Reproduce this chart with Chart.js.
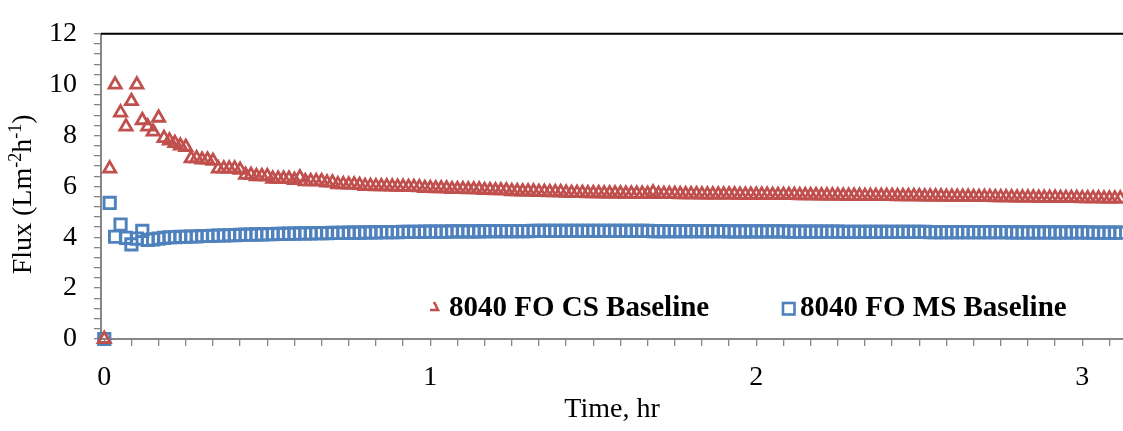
<!DOCTYPE html>
<html>
<head>
<meta charset="utf-8">
<title>8040 FO baseline flux</title>
<script src="https://cdn.jsdelivr.net/npm/chart.js@4.4.1/dist/chart.umd.min.js"></script>
<style>
  html, body { margin: 0; padding: 0; background: #fff; overflow: hidden; }
  #wrap { width: 1123px; height: 431px; position: relative; }
  #fluxChart { display: block; }
</style>
</head>
<body>
<div id="wrap"><canvas id="fluxChart"></canvas></div>
<script>
// flux readings, one per minute starting at t = 0
const SAMPLE_MIN = 1;

const seriesNames = ['8040 FO CS Baseline', '8040 FO MS Baseline'];

const csFlux = [
  0, 6.7, 10.0, 8.9, 8.35, 9.35, 10.0, 8.6, 8.35, 8.15,
  8.7, 7.9, 7.8, 7.7, 7.6, 7.55, 7.1, 7.1, 7.05, 7.05,
  7.0, 6.7, 6.7, 6.7, 6.7, 6.65, 6.45, 6.45, 6.4, 6.4,
  6.4, 6.3, 6.3, 6.3, 6.3, 6.25, 6.35, 6.2, 6.2, 6.2,
  6.2, 6.15, 6.15, 6.08, 6.08, 6.07, 6.07, 6.05, 6.01, 6.01,
  6.0, 6.0, 6.0, 5.99, 5.98, 5.98, 5.97, 5.97, 5.96, 5.93,
  5.93, 5.92, 5.92, 5.92, 5.89, 5.89, 5.89, 5.88, 5.88, 5.88,
  5.85, 5.85, 5.84, 5.84, 5.84, 5.81, 5.81, 5.80, 5.80, 5.80,
  5.78, 5.78, 5.77, 5.77, 5.77, 5.75, 5.74, 5.74, 5.74, 5.73,
  5.73, 5.73, 5.72, 5.72, 5.72, 5.72, 5.71, 5.71, 5.71, 5.71,
  5.70, 5.76, 5.70, 5.70, 5.70, 5.70, 5.69, 5.69, 5.69, 5.69,
  5.68, 5.68, 5.68, 5.68, 5.68, 5.68, 5.68, 5.67, 5.67, 5.67,
  5.67, 5.67, 5.67, 5.66, 5.66, 5.66, 5.66, 5.66, 5.65, 5.65,
  5.65, 5.65, 5.64, 5.64, 5.64, 5.64, 5.63, 5.63, 5.63, 5.63,
  5.62, 5.62, 5.62, 5.62, 5.62, 5.62, 5.61, 5.61, 5.61, 5.61,
  5.61, 5.60, 5.60, 5.60, 5.60, 5.59, 5.59, 5.59, 5.59, 5.59,
  5.58, 5.58, 5.58, 5.58, 5.57, 5.57, 5.57, 5.57, 5.56, 5.56,
  5.56, 5.56, 5.55, 5.55, 5.55, 5.55, 5.54, 5.54, 5.54, 5.54,
  5.53, 5.53, 5.53, 5.53, 5.52, 5.52, 5.52, 5.52
];

const msFlux = [
  0, 5.35, 4.02, 4.5, 3.98, 3.72, 3.95, 4.25, 3.9, 3.92,
  3.95, 3.98, 4.0, 4.0, 4.02, 4.02, 4.03, 4.03, 4.05, 4.05,
  4.06, 4.07, 4.07, 4.08, 4.08, 4.09, 4.10, 4.10, 4.11, 4.11,
  4.12, 4.12, 4.13, 4.13, 4.14, 4.14, 4.15, 4.15, 4.15, 4.16,
  4.16, 4.16, 4.17, 4.17, 4.17, 4.18, 4.18, 4.18, 4.19, 4.19,
  4.19, 4.20, 4.20, 4.20, 4.20, 4.21, 4.21, 4.21, 4.21, 4.22,
  4.22, 4.22, 4.22, 4.22, 4.23, 4.23, 4.23, 4.23, 4.23, 4.23,
  4.24, 4.24, 4.24, 4.24, 4.24, 4.24, 4.24, 4.24, 4.24, 4.25,
  4.25, 4.25, 4.25, 4.25, 4.25, 4.25, 4.25, 4.25, 4.25, 4.25,
  4.25, 4.25, 4.25, 4.25, 4.25, 4.25, 4.25, 4.25, 4.25, 4.25,
  4.25, 4.24, 4.24, 4.24, 4.24, 4.24, 4.24, 4.24, 4.24, 4.24,
  4.24, 4.24, 4.24, 4.24, 4.24, 4.23, 4.23, 4.23, 4.23, 4.23,
  4.23, 4.23, 4.23, 4.23, 4.23, 4.23, 4.22, 4.22, 4.22, 4.22,
  4.22, 4.22, 4.22, 4.22, 4.22, 4.22, 4.21, 4.21, 4.21, 4.21,
  4.21, 4.21, 4.21, 4.21, 4.21, 4.21, 4.21, 4.21, 4.21, 4.21,
  4.21, 4.21, 4.20, 4.20, 4.20, 4.20, 4.20, 4.20, 4.20, 4.20,
  4.20, 4.20, 4.20, 4.20, 4.20, 4.20, 4.20, 4.19, 4.19, 4.19,
  4.19, 4.19, 4.19, 4.19, 4.19, 4.19, 4.19, 4.19, 4.19, 4.19,
  4.19, 4.19, 4.18, 4.18, 4.18, 4.18, 4.18, 4.18
];

const xMajorLabels = [0, 1, 2, 3];
const yMajorLabels = [0, 2, 4, 6, 8, 10, 12];

const X_MIN = -0.01, X_MAX = 3.125;
const Y_MIN = 0, Y_MAX = 12;
const X_MINOR = 1 / 12;   // 5 min
const Y_MINOR = 0.4;

const RED  = '#C0504D';
const BLUE = '#4F81BD';
const AXIS = '#868686';
const SERIF = "'Liberation Serif', 'Times New Roman', serif";

Chart.defaults.font.family = SERIF;
Chart.defaults.font.size = 28;
Chart.defaults.color = '#000';

const toPoints = arr => arr.map((v, i) => ({ x: i * SAMPLE_MIN / 60, y: v }));

function minorTicks(min, max, step) {
  const out = [];
  for (let i = 0; i * step <= max + 1e-9; i++) {
    const v = Math.round(i * step * 1e6) / 1e6;
    if (v >= min) out.push({ value: v });
  }
  return out;
}

const isMajor = (v, list) => list.some(m => Math.abs(m - v) < 1e-6);

// plot frame line along the top of the plot area
const topFrame = {
  id: 'topFrame',
  beforeDatasetsDraw(chart) {
    const { ctx, chartArea: a } = chart;
    ctx.save();
    ctx.strokeStyle = '#000';
    ctx.lineWidth = 2;
    ctx.beginPath();
    ctx.moveTo(a.left, a.top);
    ctx.lineTo(a.right, a.top);
    ctx.stroke();
    ctx.restore();
  }
};

// y title with superscript units
const yTitle = {
  id: 'yTitle',
  afterDraw(chart) {
    const { ctx, chartArea: a } = chart;
    const parts = [
      { t: 'Flux (Lm', sup: false },
      { t: '-2', sup: true },
      { t: 'h', sup: false },
      { t: '-1', sup: true },
      { t: ')', sup: false }
    ];
    const big = '28px ' + SERIF, small = '18px ' + SERIF;
    ctx.save();
    let total = 0;
    parts.forEach(p => { ctx.font = p.sup ? small : big; p.w = ctx.measureText(p.t).width; total += p.w; });
    ctx.translate(31, (a.top + a.bottom) / 2 + 8);
    ctx.rotate(-Math.PI / 2);
    ctx.fillStyle = '#000';
    ctx.textBaseline = 'alphabetic';
    ctx.textAlign = 'left';
    let x = -total / 2;
    parts.forEach(p => {
      ctx.font = p.sup ? small : big;
      ctx.fillText(p.t, x, p.sup ? -10 : 0);
      x += p.w;
    });
    ctx.restore();
  }
};

// legend sits inside the plot, near the bottom
const innerLegend = {
  id: 'innerLegend',
  afterDraw(chart) {
    const { ctx, chartArea: a } = chart;
    const base = a.bottom - 23;
    ctx.save();
    ctx.font = 'bold 29px ' + SERIF;
    ctx.fillStyle = '#000';
    ctx.textBaseline = 'alphabetic';

    // clipped triangle marker
    ctx.strokeStyle = RED;
    ctx.lineWidth = 2.6;
    ctx.lineJoin = 'miter';
    ctx.beginPath();
    ctx.moveTo(a.left + 333, base - 14);
    ctx.lineTo(a.left + 337, base - 6);
    ctx.lineTo(a.left + 329, base - 6);
    ctx.stroke();
    ctx.fillText(seriesNames[0], a.left + 348, base);

    ctx.strokeStyle = BLUE;
    ctx.lineWidth = 2.6;
    ctx.strokeRect(a.left + 682, base - 13, 11.5, 11.5);
    ctx.fillText(seriesNames[1], a.left + 699, base);
    ctx.restore();
  }
};

new Chart(document.getElementById('fluxChart'), {
  type: 'scatter',
  data: {
    datasets: [
      {
        label: seriesNames[0],
        data: toPoints(csFlux),
        pointStyle: 'triangle',
        pointRadius: 7,
        pointBorderWidth: 2.8,
        borderColor: RED,
        backgroundColor: 'rgba(0,0,0,0)',
        clip: false
      },
      {
        label: seriesNames[1],
        data: toPoints(msFlux),
        pointStyle: 'rect',
        pointRadius: 8,
        pointBorderWidth: 2.9,
        borderColor: BLUE,
        backgroundColor: 'rgba(0,0,0,0)',
        clip: false
      }
    ]
  },
  options: {
    responsive: true,
    maintainAspectRatio: false,
    animation: false,
    events: [],
    layout: { autoPadding: false, padding: { top: 23, right: 0, bottom: 0, left: 0 } },
    plugins: { legend: { display: false }, tooltip: { enabled: false } },
    scales: {
      x: {
        type: 'linear',
        min: X_MIN,
        max: X_MAX,
        afterBuildTicks: s => { s.ticks = minorTicks(X_MIN, X_MAX, X_MINOR); },
        afterFit: s => { s.height = 92; s.paddingRight = 0; },
        ticks: {
          autoSkip: false,
          maxRotation: 0,
          padding: 15,
          callback: v => isMajor(v, xMajorLabels) ? String(Math.round(v)) : ''
        },
        grid: { drawOnChartArea: false, tickLength: 7, color: AXIS, lineWidth: 1.3 },
        border: { color: AXIS, width: 2 },
        title: { display: true, text: 'Time, hr', font: { size: 28 }, padding: { top: 0, bottom: 5 } }
      },
      y: {
        type: 'linear',
        min: Y_MIN,
        max: Y_MAX,
        afterBuildTicks: s => { s.ticks = minorTicks(Y_MIN, Y_MAX, Y_MINOR); },
        afterFit: s => { s.width = 101; s.paddingRight = 0; },
        ticks: {
          autoSkip: false,
          padding: 17,
          callback: v => isMajor(v, yMajorLabels) ? String(Math.round(v)) : ''
        },
        grid: { drawOnChartArea: false, tickLength: 7, color: AXIS, lineWidth: 1.3 },
        border: { color: AXIS, width: 2 }
      }
    }
  },
  plugins: [topFrame, yTitle, innerLegend]
});
</script>
</body>
</html>
